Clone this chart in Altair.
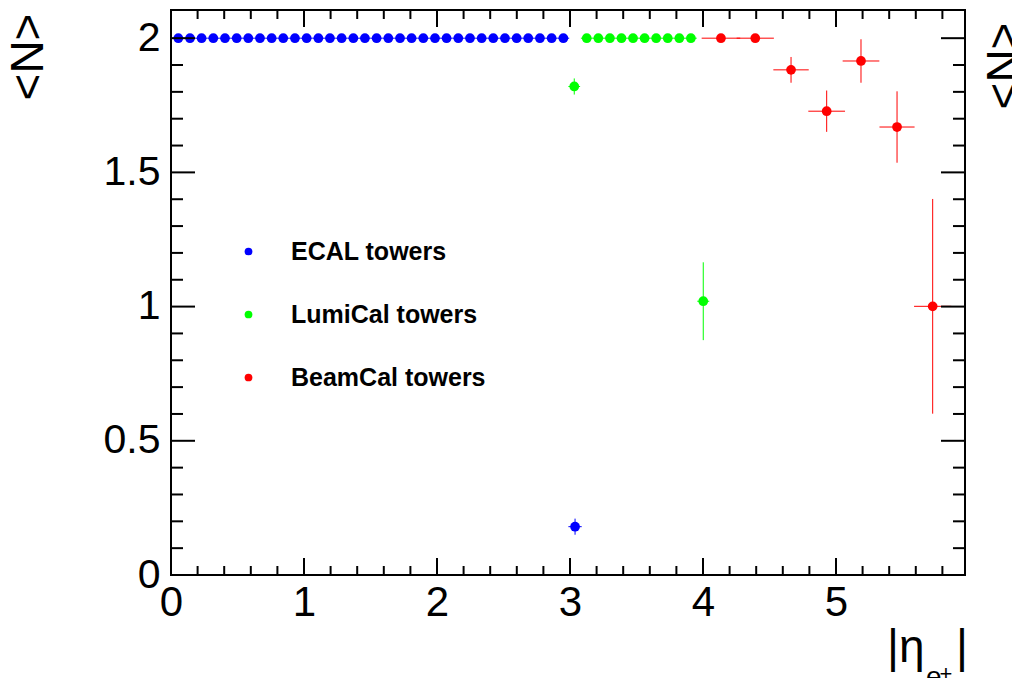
import altair as alt
import pandas as pd

# ---------------- data ----------------
series_names = ["ECAL towers", "LumiCal towers", "BeamCal towers"]
series_colors = ["#0000ff", "#00ff00", "#ff0000"]

ecal_x = [0.055, 0.143, 0.230, 0.318, 0.406, 0.494, 0.581, 0.669, 0.757, 0.844,
          0.932, 1.020, 1.108, 1.195, 1.283, 1.371, 1.458, 1.546, 1.634, 1.722,
          1.809, 1.897, 1.985, 2.072, 2.160, 2.248, 2.336, 2.423, 2.511, 2.599,
          2.686, 2.774, 2.862, 2.950, 3.038]
ecal_y = [2.0, 2.0, 2.0, 2.0, 2.0, 2.0, 2.0, 2.0, 2.0, 2.0,
          2.0, 2.0, 2.0, 2.0, 2.0, 2.0, 2.0, 2.0, 2.0, 2.0,
          2.0, 2.0, 2.0, 2.0, 2.0, 2.0, 2.0, 2.0, 2.0, 2.0,
          2.0, 2.0, 2.0, 2.0, 0.18]
ecal_yerr = [0, 0, 0, 0, 0, 0, 0, 0, 0, 0,
             0, 0, 0, 0, 0, 0, 0, 0, 0, 0,
             0, 0, 0, 0, 0, 0, 0, 0, 0, 0,
             0, 0, 0, 0, 0.03]
ecal_xerr = [0.044, 0.044, 0.044, 0.044, 0.044, 0.044, 0.044, 0.044, 0.044, 0.044,
             0.044, 0.044, 0.044, 0.044, 0.044, 0.044, 0.044, 0.044, 0.044, 0.044,
             0.044, 0.044, 0.044, 0.044, 0.044, 0.044, 0.044, 0.044, 0.044, 0.044,
             0.044, 0.044, 0.044, 0.044, 0.05]

lumi_x = [3.032, 3.126, 3.213, 3.300, 3.387, 3.474, 3.561, 3.648, 3.735, 3.822, 3.909, 4.002]
lumi_y = [1.82, 2.0, 2.0, 2.0, 2.0, 2.0, 2.0, 2.0, 2.0, 2.0, 2.0, 1.02]
lumi_yerr = [0.03, 0, 0, 0, 0, 0, 0, 0, 0, 0, 0, 0.145]
lumi_xerr = [0.044, 0.044, 0.044, 0.044, 0.044, 0.044, 0.044, 0.044, 0.044, 0.044, 0.044, 0.045]

beam_x = [4.135, 4.393, 4.662, 4.930, 5.188, 5.459, 5.727]
beam_y = [2.0, 2.0, 1.882, 1.728, 1.915, 1.669, 1.001]
beam_yerr = [0, 0, 0.048, 0.077, 0.081, 0.133, 0.40]
beam_xerr = [0.145, 0.14, 0.133, 0.138, 0.138, 0.132, 0.14]

x_major_ticks = [0, 1, 2, 3, 4, 5]
x_minor_ticks = [0.2, 0.4, 0.6, 0.8, 1.2, 1.4, 1.6, 1.8, 2.2, 2.4, 2.6, 2.8,
                 3.2, 3.4, 3.6, 3.8, 4.2, 4.4, 4.6, 4.8, 5.2, 5.4, 5.6, 5.8]
y_major_ticks = [0, 0.5, 1, 1.5, 2]
y_minor_ticks = [0.1, 0.2, 0.3, 0.4, 0.6, 0.7, 0.8, 0.9, 1.1, 1.2, 1.3, 1.4,
                 1.6, 1.7, 1.8, 1.9]

y_title = "<N>"
x_title_main = "|\u03b7"
x_title_sub = "e"
x_title_sup = "+"
x_title_close = "|"

# ---------------- build table ----------------
rows = []
for name, xs, ys, yes, xes in [
    (series_names[0], ecal_x, ecal_y, ecal_yerr, ecal_xerr),
    (series_names[1], lumi_x, lumi_y, lumi_yerr, lumi_xerr),
    (series_names[2], beam_x, beam_y, beam_yerr, beam_xerr),
]:
    for x, y, ye, xe in zip(xs, ys, yes, xes):
        rows.append({"series": name, "x": x, "y": y,
                     "xlo": x - xe, "xhi": x + xe,
                     "ylo": y - ye, "yhi": y + ye})
df = pd.DataFrame(rows)

W, H = 794, 565
xs_scale = alt.Scale(domain=[0, 5.97], nice=False, zero=False)
ys_scale = alt.Scale(domain=[0, 2.105], nice=False, zero=False)
color_scale = alt.Scale(domain=series_names, range=series_colors)

LABEL_FONT = "Liberation Sans"

x_axis = alt.Axis(values=x_major_ticks, title=None, ticks=False, domain=False, grid=False,
                  labelFont=LABEL_FONT, labelFontSize=42, labelColor="black",
                  labelPadding=7, format="~g", labelFlush=False)
y_axis = alt.Axis(values=y_major_ticks, title=None, ticks=False, domain=False, grid=False,
                  labelFont=LABEL_FONT, labelFontSize=41, labelColor="black",
                  labelPadding=11, format="~g", labelFlush=False)
legend = alt.Legend(title=None, orient="none", legendX=65, legendY=229,
                    symbolType="circle", symbolSize=60, symbolStrokeWidth=0,
                    labelFont=LABEL_FONT, labelFontWeight="bold",
                    labelFontSize=25, labelColor="black", labelLimit=500,
                    rowPadding=37, labelOffset=30, padding=0)
color_enc = alt.Color("series:N", scale=color_scale, legend=legend)

hbars = alt.Chart(df).mark_rule(strokeWidth=1).encode(
    x=alt.X("xlo:Q", scale=xs_scale, axis=x_axis),
    x2="xhi:Q",
    y=alt.Y("y:Q", scale=ys_scale, axis=y_axis),
    color=color_enc,
)
vbars = alt.Chart(df).mark_rule(strokeWidth=1).encode(
    x=alt.X("x:Q", scale=xs_scale, axis=x_axis),
    y=alt.Y("ylo:Q", scale=ys_scale, axis=y_axis),
    y2="yhi:Q",
    color=color_enc,
)
points = alt.Chart(df).mark_circle(size=95, opacity=1).encode(
    x=alt.X("x:Q", scale=xs_scale, axis=x_axis),
    y=alt.Y("y:Q", scale=ys_scale, axis=y_axis),
    color=color_enc,
)

def xticks(vals, length):
    d = pd.DataFrame({"v": vals})
    bottom = alt.Chart(d).mark_rule(color="black", strokeWidth=2).encode(
        x=alt.X("v:Q", scale=xs_scale, axis=x_axis), y=alt.value(H), y2=alt.value(H - length))
    top = alt.Chart(d).mark_rule(color="black", strokeWidth=2).encode(
        x=alt.X("v:Q", scale=xs_scale, axis=x_axis), y=alt.value(0), y2=alt.value(length))
    return [bottom, top]

def yticks(vals, length):
    d = pd.DataFrame({"v": vals})
    left = alt.Chart(d).mark_rule(color="black", strokeWidth=2).encode(
        y=alt.Y("v:Q", scale=ys_scale, axis=y_axis), x=alt.value(0), x2=alt.value(length))
    right = alt.Chart(d).mark_rule(color="black", strokeWidth=2).encode(
        y=alt.Y("v:Q", scale=ys_scale, axis=y_axis), x=alt.value(W), x2=alt.value(W - length))
    return [left, right]

tick_layers = xticks(x_major_ticks, 17) + xticks(x_minor_ticks, 9) + \
    yticks(y_major_ticks, 24) + yticks(y_minor_ticks, 12)

one = pd.DataFrame({"a": [0]})

def label(text, x, y, size, angle=0, align="center", baseline="alphabetic", weight="normal"):
    kw = dict(text=text, fontSize=size, font=LABEL_FONT, color="black",
              align=align, baseline=baseline, fontWeight=weight)
    if angle:
        kw["angle"] = angle
    return alt.Chart(one).mark_text(**kw).encode(x=alt.value(x), y=alt.value(y))

texts = [
    label(y_title, -142.5, 47, 46, angle=270, baseline="middle"),
    label(y_title, 833.5, 56, 46, angle=270, baseline="middle"),
    label(x_title_main, 716, 652, 46, align="left"),
    label(x_title_sub, 755, 676, 28, align="left"),
    label(x_title_sup, 775, 671, 22),
    label(x_title_close, 791, 652, 46),
]

chart = alt.layer(hbars, vbars, points, *tick_layers, *texts).properties(
    width=W, height=H,
    autosize=alt.AutoSizeParams(type="none"),
    padding={"left": 163, "top": 2, "right": 47, "bottom": 103},
).configure_view(stroke="black", strokeWidth=2)

chart.save("out.html", embed_options={"renderer": "svg", "actions": False})
